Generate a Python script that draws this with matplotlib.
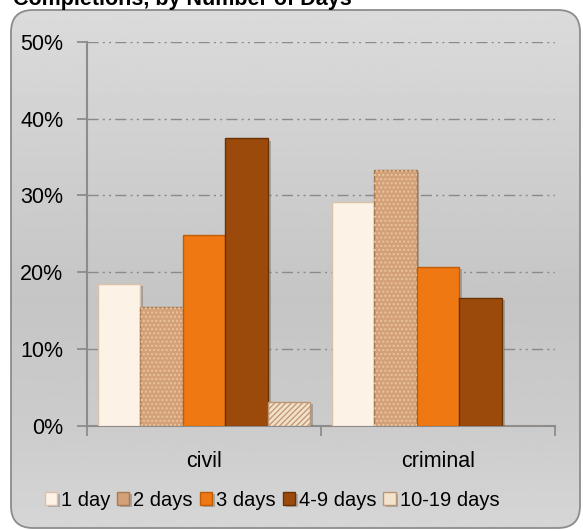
import numpy as np
import matplotlib
matplotlib.use("Agg")
import matplotlib.pyplot as plt
import matplotlib.patheffects as pe
from matplotlib.patches import FancyBboxPatch

plt.rcParams['font.family'] = ['Liberation Sans', 'DejaVu Sans']

# data
categories = ['civil', 'criminal']
series = ['1 day', '2 days', '3 days', '4-9 days', '10-19 days']
values = {
    '1 day':      [18.5, 29.1],
    '2 days':     [15.5, 33.3],
    '3 days':     [24.9, 20.7],
    '4-9 days':   [37.4, 16.6],
    '10-19 days': [3.1, 0.0],
}
yticks = [0, 10, 20, 30, 40, 50]

face = ['#fdf2e6', '#d4a078', '#f07812', '#9c4a0c', '#f3e2cc']
edge = ['#d9c2aa', '#a67a52', '#c05c04', '#6a3204', '#b99676']
hatch = [None, '....', None, None, '//////']
hatch_col = [None, '#e8c4a0', None, None, '#c49a74']

W, H = 583, 531
fig = plt.figure(figsize=(W / 100, H / 100), dpi=100)

# background frame with vertical gradient
bg = fig.add_axes([0, 0, 1, 1])
bg.set_xlim(0, W)
bg.set_ylim(H, 0)
bg.axis('off')
stops_y = [10, 120, 300, 430, 528]
stops_c = [0xdb, 0xd2, 0xc5, 0xcc, 0xd6]
yy = np.linspace(10, 528, 300)
g = np.interp(yy, stops_y, stops_c) / 255.0
img = np.repeat(g[:, None], 2, axis=1)
im = bg.imshow(img, cmap='gray', vmin=0, vmax=1, extent=[10, 581, 528, 10],
               aspect='auto', interpolation='bilinear')
frame = FancyBboxPatch((11, 10), 569, 518, boxstyle='round,pad=0,rounding_size=22',
                       facecolor='none', edgecolor='#8c8c8c', lw=1.3)
bg.add_patch(frame)
im.set_clip_path(frame)

fig.text(13 / W, 1 - 5 / H, 'Completions, by Number of Days', fontsize=15.5,
         fontweight='bold', ha='left', va='baseline')

ax = fig.add_axes([87 / W, 1 - 425.8 / H, 468 / W, (425.8 - 41.7) / H])
ax.patch.set_alpha(0)
x = np.arange(len(categories))
bw = 0.182
shadow = [pe.SimplePatchShadow(offset=(2, -1.5), shadow_rgbFace='#555555', alpha=0.35),
          pe.Normal()]
handles = []
for i, s in enumerate(series):
    pos = x + (i - 2) * bw
    b = ax.bar(pos, values[s], bw, color=face[i], edgecolor=edge[i], lw=1, zorder=3)
    for p in b.patches:
        p.set_path_effects(shadow)
    if hatch[i]:
        ax.bar(pos, values[s], bw, facecolor='none', edgecolor=hatch_col[i],
               hatch=hatch[i], lw=0, zorder=4)
    handles.append(b)

ax.set_xlim(-0.5, 1.5)
ax.set_ylim(0, 50)
ax.set_yticks(yticks)
ax.set_yticklabels([f'{t}%' for t in yticks])
ax.set_xticks(x)
ax.set_xticklabels(categories)
ax.set_xticks([-0.5, 0.5, 1.5], minor=True)
ax.tick_params(axis='x', which='major', length=0, pad=18, labelsize=15.5)
ax.tick_params(axis='x', which='minor', length=7, width=1.3, color='#8c8c8c', direction='out')
ax.tick_params(axis='y', length=7, width=1.3, color='#8c8c8c', direction='out',
               pad=10, labelsize=15.5)
for sp in ['top', 'right']:
    ax.spines[sp].set_visible(False)
for sp in ['left', 'bottom']:
    ax.spines[sp].set_color('#8c8c8c')
    ax.spines[sp].set_linewidth(1.5)
for t in yticks[1:]:
    ax.axhline(t, color='#8a8a8a', lw=1, ls=(0, (8, 3, 1.5, 3, 1.5, 3)), zorder=1)

fig.legend(handles, series, loc='center', bbox_to_anchor=(272 / W, 1 - 500 / H),
           ncol=5, frameon=False, fontsize=14.5, handlelength=0.6, handleheight=0.6,
           handletextpad=0.2, columnspacing=0.35, borderaxespad=0)

fig.savefig('out.png', dpi=100)
